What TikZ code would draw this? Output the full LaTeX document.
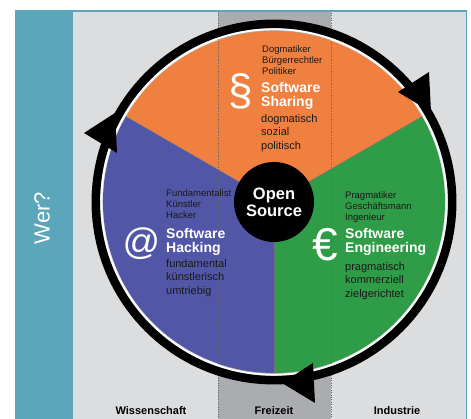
\documentclass[tikz,border=0pt]{standalone}
\usepackage{fontspec}
\setmainfont{Liberation Sans}
\usetikzlibrary{positioning}

\definecolor{werteal}{HTML}{5BA6BB}
\definecolor{panelgray}{HTML}{DCDDDF}
\definecolor{stripgray}{HTML}{ABACAF}
\definecolor{sharingorange}{HTML}{EF8040}
\definecolor{hackingblue}{HTML}{5157A6}
\definecolor{enggreen}{HTML}{2F9D47}

\tikzset{ringtip/.pic={\fill (0,0) -- (31,20) -- (33,-20) -- cycle;}}

\begin{document}
\begin{tikzpicture}[x=1pt, y=1pt,
    small/.style={anchor=north west, inner sep=0pt, align=left, text=black!90, font=\fontsize{9.5}{11}\selectfont},
    head/.style={anchor=north west, inner sep=0pt, align=left, text=white, font=\bfseries\fontsize{14}{14}\selectfont},
    adj/.style={anchor=north west, inner sep=0pt, align=left, text=black!90, font=\fontsize{11}{13.5}\selectfont},
    symb/.style={inner sep=0pt, text=white},
    area/.style={anchor=base, inner sep=0pt, font=\bfseries\fontsize{11}{13}\selectfont}]
    \useasboundingbox (0,0) rectangle (471,419);

    % frame
    \fill[werteal] (15,0) rectangle (466.5,409);
    \fill[panelgray] (73,0) rectangle (465.5,407);
    \fill[stripgray] (218,0) rectangle (331,407);

    % pie
    \coordinate (c) at (274,217);
    \fill[sharingorange] (c) -- ++(30:171) arc[start angle=30, end angle=150, radius=171] -- cycle;
    \fill[hackingblue] (c) -- ++(150:171) arc[start angle=150, end angle=270, radius=171] -- cycle;
    \fill[enggreen] (c) -- ++(270:171) arc[start angle=270, end angle=390, radius=171] -- cycle;
    \draw[black!55, line width=0.4pt] (c) -- ++(30:171);
    \draw[black!55, line width=0.4pt] (c) -- ++(150:171);
    \draw[black!55, line width=0.4pt] (c) -- ++(270:171);

    % dotted strip borders
    \draw[dotted, black!60, line width=0.4pt] (218,0) -- (218,407);
    \draw[dotted, black!60, line width=0.4pt] (331,0) -- (331,407);

    % ring
    \draw[white, line width=2pt] (c) circle[radius=172.8];
    \draw[line width=8.5pt] (c) circle[radius=178.2];
    \pic at (84,286) {ringtip};
    \pic at (398,327) {ringtip};
    \pic at (282,36) {ringtip};

    % center
    \node[circle, fill=black, minimum size=80pt, inner sep=0pt, text=white, align=center,
          font=\bfseries\fontsize{16.5}{17}\selectfont] (os) at (c) {Open\\Source};

    % side label
    \node[rotate=90, text=white, inner sep=0pt, font=\fontsize{22}{22}\selectfont] (wer) at (42,201) {Wer?};

    % symbols
    \node[symb, font=\fontsize{44}{44}\selectfont] (para) at (241,327.5) {§};
    \node[symb, font=\fontsize{37}{37}\selectfont] (at) at (141.5,175) {@};
    \node[symb, font=\fontsize{46}{46}\selectfont] (euro) at (325,174) {€};

    % software sharing
    \node[small] (sharingwho) at (262,374) {Dogmatiker\\Bürgerrechtler\\Politiker};
    \node[head] (sharing) at (261,337) {Software\\Sharing};
    \node[adj] (sharinghow) at (261,305) {dogmatisch\\sozial\\politisch};

    % software hacking
    \node[small] (hackingwho) at (166,230) {Fundamentalist\\Künstler\\Hacker};
    \node[head] (hacking) at (166,191) {Software\\Hacking};
    \node[adj] (hackinghow) at (166,160) {fundamental\\künstlerisch\\umtriebig};

    % software engineering
    \node[small] (engwho) at (345,228) {Pragmatiker\\Geschäftsmann\\Ingenieur};
    \node[head] (eng) at (345,191) {Software\\Engineering};
    \node[adj] (enghow) at (345,157) {pragmatisch\\kommerziell\\zielgerichtet};

    % areas
    \node[area] (wiss) at (151,4) {Wissenschaft};
    \node[area] (frei) at (274,4) {Freizeit};
    \node[area] (ind) at (397,4) {Industrie};
\end{tikzpicture}
\end{document}
